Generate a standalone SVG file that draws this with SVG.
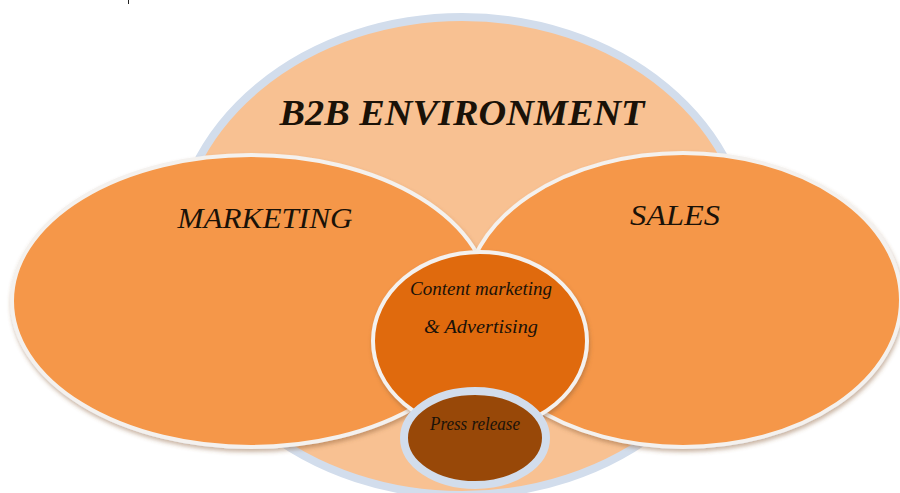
<svg xmlns="http://www.w3.org/2000/svg" width="900" height="493" viewBox="0 0 900 493">
<defs>
<filter id="sh" x="-10%" y="-10%" width="120%" height="125%">
<feDropShadow dx="1" dy="3" stdDeviation="2" flood-color="#8a5a30" flood-opacity="0.45"/>
</filter>
<style>
.t{font-family:"Liberation Serif","DejaVu Serif",serif;font-style:italic;fill:#1a1208;text-anchor:middle}
.lbl{font-size:29px}
.sm{font-size:19px}
</style>
</defs>
<rect width="900" height="493" fill="#ffffff"/>
<line x1="128.500" y1="0" x2="128.500" y2="4" stroke="#222" stroke-width="1"/>
<g id="b2b-environment">
<ellipse cx="462" cy="256" rx="288" ry="239" fill="#f8c192" stroke="#d2ddec" stroke-width="8"/>
<text class="t" x="462" y="125" font-size="36" font-weight="bold" textLength="365" lengthAdjust="spacingAndGlyphs">B2B ENVIRONMENT</text>
</g>
<g id="marketing">
<ellipse cx="251" cy="301" rx="239" ry="146" fill="#f59748" stroke="#f4f1ee" stroke-width="4" filter="url(#sh)"/>
<text class="t lbl" x="265" y="228" textLength="175" lengthAdjust="spacingAndGlyphs">MARKETING</text>
</g>
<g id="sales">
<ellipse cx="683" cy="300" rx="218" ry="147" fill="#f59748" stroke="#f4f1ee" stroke-width="4" filter="url(#sh)"/>
<text class="t lbl" x="675" y="225" textLength="90" lengthAdjust="spacingAndGlyphs">SALES</text>
</g>
<g id="content-marketing">
<ellipse cx="480" cy="341" rx="107" ry="89" fill="#e06a0c" stroke="#f4f1ee" stroke-width="4" filter="url(#sh)"/>
<text class="t sm" x="481" y="295" textLength="142" lengthAdjust="spacingAndGlyphs">Content marketing</text>
<text class="t sm" x="481" y="333" textLength="114" lengthAdjust="spacingAndGlyphs">&amp; Advertising</text>
</g>
<g id="press-release">
<ellipse cx="475" cy="438" rx="71" ry="47" fill="#984808" stroke="#d2ddec" stroke-width="8"/>
<text class="t" x="475" y="430" font-size="18" textLength="90" lengthAdjust="spacingAndGlyphs">Press release</text>
</g>
<g id="connectors"></g>
</svg>
